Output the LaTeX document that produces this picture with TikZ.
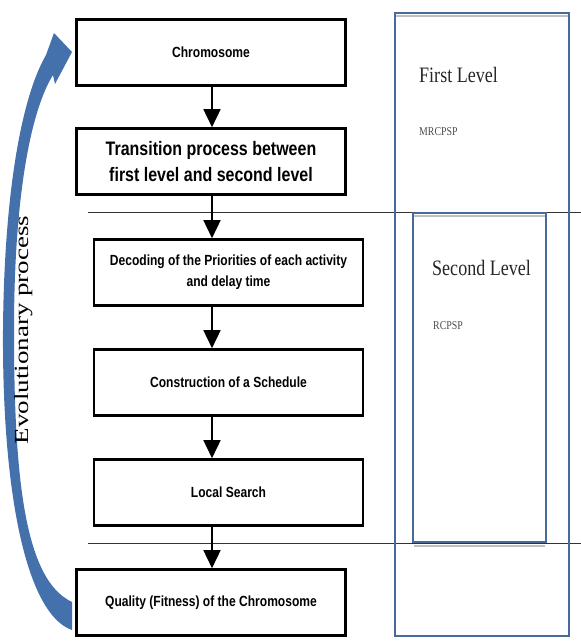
\documentclass[tikz,border=0pt]{standalone}
\usepackage{fontspec}
\setmainfont{Liberation Serif}
\newfontfamily\boxfont[FakeStretch=0.82]{Liberation Sans}
\newfontfamily\levelfont[FakeStretch=0.82]{Liberation Serif}
\newfontfamily\evofont[FakeStretch=1.35]{Liberation Serif}
\usetikzlibrary{arrows.meta}
\definecolor{levelblue}{RGB}{72,106,152}
\definecolor{evoblue}{RGB}{68,112,172}
\begin{document}
\begin{tikzpicture}[x=1pt,y=-1pt,
  stage/.style={draw,line width=2.6pt,minimum width=269pt,minimum height=66pt,
    inner sep=0pt,align=center,font=\boxfont\bfseries\fontsize{14.7}{21}\selectfont},
  flow/.style={line width=1.6pt,-{Triangle[length=18pt,width=17pt]}},
  levelbox/.style={draw=levelblue,line width=2.4pt},
  levellabel/.style={anchor=west,inner sep=0pt,text=black!85,font=\levelfont\fontsize{22}{26}\selectfont},
  probname/.style={anchor=west,inner sep=0pt,text=black!70,font=\levelfont\fontsize{12}{14}\selectfont}]
\useasboundingbox (0,0) rectangle (581,643);
% evolutionary arrow
\fill[evoblue] (72,630) .. controls (28,615) and (2,500) .. (3,330)
  .. controls (4,200) and (20,100) .. (46,55) -- (54,33) -- (72,52) -- (55,84) -- (53,75)
  .. controls (30,112) and (14,200) .. (14,330)
  .. controls (14,480) and (25,580) .. (72,602) -- cycle;
\node[rotate=90,inner sep=0pt,font=\evofont\fontsize{20}{24}\selectfont] (evo) at (24,330) {Evolutionary process};
% level boundaries
\draw[black!80,line width=0.8pt] (88,212) -- (581,212);
\draw[black!80,line width=0.8pt] (88,543) -- (581,543);
\draw[black!25,line width=2pt] (396,16) -- (568,16);
\draw[black!25,line width=2pt] (414,216) -- (545,216);
\draw[black!25,line width=2pt] (414,546) -- (545,546);
\draw[levelbox] (395,13) rectangle (569,636);
\draw[levelbox] (413,213) rectangle (546,542);
\node[levellabel] (first) at (419,75) {First Level};
\node[probname] (mrcpsp) at (419,132) {MRCPSP};
\node[levellabel] (second) at (432,268) {Second Level};
\node[probname] (rcpsp) at (433,326) {RCPSP};
% steps
\coordinate (axis) at (212,0);
\node[stage] (chrom) at (211,52.5) {Chromosome};
\node[stage,font=\boxfont\bfseries\fontsize{19.5}{26}\selectfont] (trans) at (211,161.5) {Transition process between\\first level and second level};
\node[stage] (dec) at (228.5,272.5) {Decoding of the Priorities of each activity\\and delay time};
\node[stage] (cons) at (228.5,382.5) {Construction of a Schedule};
\node[stage] (local) at (228.5,492.5) {Local Search};
\node[stage] (qual) at (211,602.5) {Quality (Fitness) of the Chromosome};
\draw[flow] (chrom.south -| axis) -- (trans.north -| axis);
\draw[flow] (trans.south -| axis) -- (dec.north -| axis);
\draw[flow] (dec.south -| axis) -- (cons.north -| axis);
\draw[flow] (cons.south -| axis) -- (local.north -| axis);
\draw[flow] (local.south -| axis) -- (qual.north -| axis);
\end{tikzpicture}
\end{document}
